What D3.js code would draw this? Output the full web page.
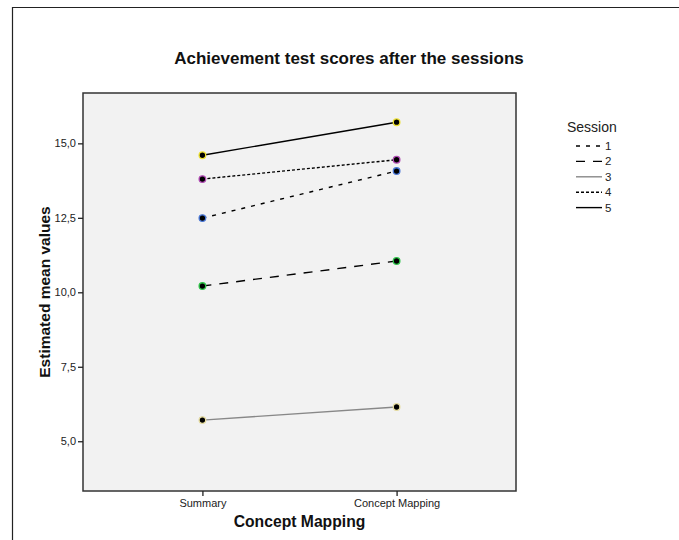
<!DOCTYPE html>
<html><head><meta charset="utf-8">
<script src="https://cdn.jsdelivr.net/npm/d3@7"></script>
<style>html,body{margin:0;padding:0;overflow:hidden;background:#fff}svg{display:block}text{font-family:"Liberation Sans",Arial,sans-serif}</style>
</head><body>
<svg id="c" width="679" height="540"></svg>
<script>
const categories = ["Summary", "Concept Mapping"];
const sessions = ["1", "2", "3", "4", "5"];
const session1 = [12.49, 14.07];
const session2 = [10.21, 11.05];
const session3 = [5.71, 6.15];
const session4 = [13.80, 14.45];
const session5 = [14.60, 15.71];
const yTicks = [5.0, 7.5, 10.0, 12.5, 15.0];
const seriesValues = [session1, session2, session3, session4, session5];

const lineColor = ["#000", "#000", "#888", "#000", "#000"];
const dash = ["4,6", "9,8", null, "3,2", null];
const markerStroke = ["#4a78d8", "#2fc44a", "#e6dca0", "#b14ab4", "#ede030"];

const svg = d3.select("#c");
const L = 83, R = 516, T = 93, B = 491;

svg.append("path").attr("d", "M12.5,540 L12.5,7.5 L679,7.5")
  .attr("fill", "none").attr("stroke", "#222").attr("stroke-width", 1.2);

const x = d3.scalePoint().domain(categories).range([L, R]).padding(0.615);
const y = d3.scaleLinear().domain([3.33, 16.69]).range([B, T]);

svg.append("rect").attr("x", L).attr("y", T).attr("width", R - L).attr("height", B - T)
  .attr("fill", "#f2f2f2").attr("stroke", "#333").attr("stroke-width", 1.5);

const fmt = d => d3.format(".1f")(d).replace(".", ",");
const ya = svg.append("g").attr("transform", `translate(${L},0)`)
  .call(d3.axisLeft(y).tickValues(yTicks).tickFormat(fmt).tickSize(5).tickPadding(2));
ya.select(".domain").remove();
ya.selectAll("line").attr("stroke", "#222").attr("stroke-width", 1.3);
ya.selectAll("text").attr("font-size", 11).attr("fill", "#222").attr("font-family", "Liberation Sans, Arial");

const xa = svg.append("g").attr("transform", `translate(0,${B})`)
  .call(d3.axisBottom(x).tickSize(5).tickPadding(3));
xa.select(".domain").remove();
xa.selectAll("line").attr("stroke", "#222").attr("stroke-width", 1.3);
xa.selectAll("text").attr("font-size", 11).attr("fill", "#222").attr("font-family", "Liberation Sans, Arial");

const line = d3.line().x((d, i) => x(categories[i])).y(d => y(d));
seriesValues.forEach((vals, s) => {
  svg.append("path").datum(vals).attr("d", line).attr("fill", "none")
    .attr("stroke", lineColor[s]).attr("stroke-width", 1.4)
    .attr("stroke-dasharray", dash[s]);
});
seriesValues.forEach((vals, s) => {
  svg.selectAll(null).data(vals).enter().append("circle")
    .attr("cx", (d, i) => x(categories[i])).attr("cy", d => y(d)).attr("r", 3.3)
    .attr("fill", "#000").attr("stroke", markerStroke[s]).attr("stroke-width", 1.3);
});

svg.append("text").attr("x", 349).attr("y", 64).attr("text-anchor", "middle")
  .attr("font-size", 17).attr("font-weight", "bold").attr("fill", "#111")
  .text("Achievement test scores after the sessions");

svg.append("text").attr("x", (L + R) / 2).attr("y", 527).attr("text-anchor", "middle")
  .attr("font-size", 15.7).attr("font-weight", "bold").attr("fill", "#111")
  .text("Concept Mapping");

svg.append("text").attr("transform", "translate(50,292) rotate(-90)").attr("text-anchor", "middle")
  .attr("font-size", 15.5).attr("font-weight", "bold").attr("fill", "#111")
  .text("Estimated mean values");

const lg = svg.append("g");
lg.append("text").attr("x", 567).attr("y", 132).attr("font-size", 14).attr("fill", "#222").text("Session");
sessions.forEach((s, i) => {
  const yy = 146 + i * 15.4;
  lg.append("line").attr("x1", 576).attr("x2", 602).attr("y1", yy).attr("y2", yy)
    .attr("stroke", lineColor[i]).attr("stroke-width", 1.4).attr("stroke-dasharray", dash[i]);
  lg.append("text").attr("x", 605).attr("y", yy + 4).attr("font-size", 11.5).attr("fill", "#222").text(s);
});
</script>
</body></html>
